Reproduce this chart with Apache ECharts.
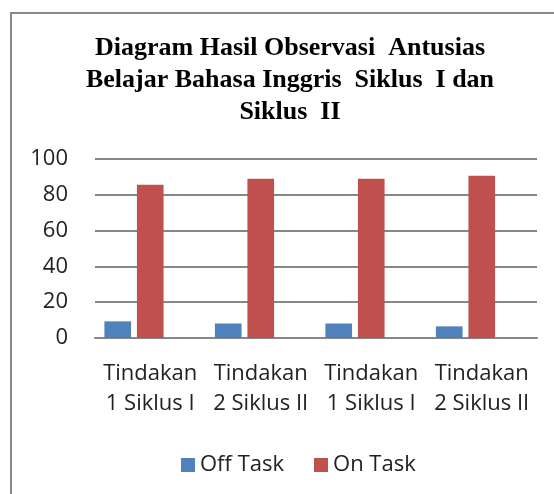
<!DOCTYPE html>
<html>
<head>
<meta charset="utf-8">
<script src="https://cdn.jsdelivr.net/npm/echarts@6/dist/echarts.min.js"></script>
<style>
  html, body { margin: 0; padding: 0; background: #fff; }
  #chart { width: 554px; height: 494px; }
</style>
</head>
<body>
<div id="chart"></div>
<script>
// data
const categories = [
  "Tindakan 1 Siklus I",
  "Tindakan 2 Siklus II",
  "Tindakan 1 Siklus I",
  "Tindakan 2 Siklus II",
];
const offTask = [9.3, 8.1, 8.1, 6.5];
const onTask = [85.6, 88.9, 88.9, 90.6];
// third (empty) series in the source workbook keeps bars left of centre
const emptySeries = [null, null, null, null];
const yTicks = [0, 20, 40, 60, 80, 100];

const chart = echarts.init(document.getElementById("chart"));

const labelFont = "Open Sans";
const gridGray = "#878787";

chart.setOption({
  animation: false,
  title: {
    text: "Diagram Hasil Observasi  Antusias\nBelajar Bahasa Inggris  Siklus  I dan\nSiklus  II",
    left: 290,
    top: 32,
    padding: 0,
    textAlign: "center",
    textStyle: {
      fontFamily: "Liberation Serif",
      fontWeight: "bold",
      fontSize: 26,
      lineHeight: 32,
      color: "#000",
    },
  },
  legend: {
    data: ["Off Task", "On Task"],
    left: 176,
    top: 449,
    itemWidth: 14,
    itemHeight: 14,
    itemGap: 30,
    icon: "rect",
    textStyle: { fontFamily: labelFont, fontSize: 22, color: "#222" },
  },
  grid: { left: 95, right: 17, top: 159, bottom: 156 },
  xAxis: {
    type: "category",
    data: categories,
    axisLine: { lineStyle: { color: gridGray, width: 2 } },
    axisTick: { show: false },
    axisLabel: {
      interval: 0,
      margin: 21,
      fontFamily: labelFont,
      fontSize: 22,
      lineHeight: 30,
      color: "#222",
      formatter: (v) => v.replace(" ", "\n"),
    },
  },
  yAxis: {
    type: "value",
    min: yTicks[0],
    max: yTicks[yTicks.length - 1],
    interval: yTicks[1] - yTicks[0],
    axisLine: { show: false },
    axisTick: { show: false },
    axisLabel: {
      margin: 27,
      fontFamily: labelFont,
      fontSize: 22,
      color: "#222",
    },
    splitLine: { lineStyle: { color: gridGray, width: 2 } },
  },
  series: [
    {
      name: "Off Task",
      type: "bar",
      data: offTask,
      itemStyle: { color: "#4F81BD" },
      barGap: "22%",
      barCategoryGap: "17%",
    },
    {
      name: "On Task",
      type: "bar",
      data: onTask,
      itemStyle: { color: "#C0504D" },
    },
    {
      name: "",
      type: "bar",
      data: emptySeries,
      itemStyle: { color: "#9BBB59" },
    },
  ],
  graphic: [
    // chart frame: only left and top edges fall inside the picture
    {
      type: "rect",
      shape: { x: 10, y: 12, width: 2, height: 482 },
      style: { fill: "#888" },
      silent: true,
    },
    {
      type: "rect",
      shape: { x: 10, y: 12, width: 544, height: 2 },
      style: { fill: "#888" },
      silent: true,
    },
  ],
});
</script>
</body>
</html>
